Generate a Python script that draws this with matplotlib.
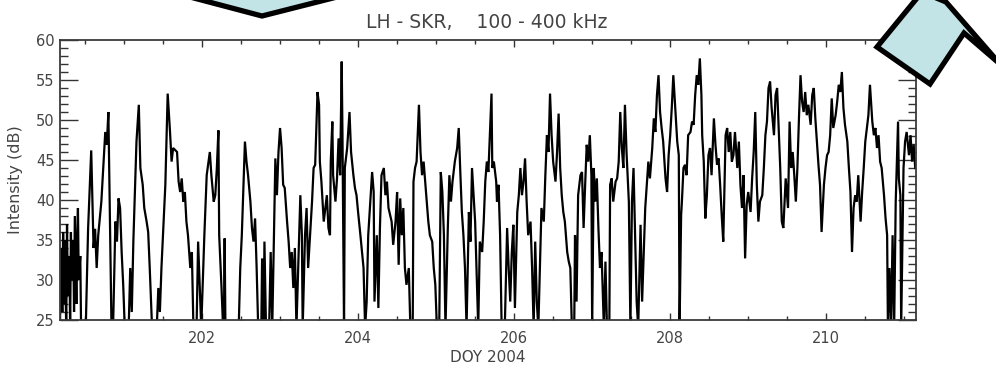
import matplotlib
matplotlib.use("Agg")
import matplotlib.pyplot as plt
from matplotlib.patches import Polygon
from matplotlib.ticker import MultipleLocator

# LH-polarised SKR intensity, 100-400 kHz, versus day of year 2004
doy = [
    200.18, 200.19, 200.21, 200.22, 200.23, 200.24, 200.26, 200.27, 200.28, 200.30,
    200.31, 200.32, 200.33, 200.35, 200.36, 200.37, 200.39, 200.40, 200.41, 200.42,
    200.44, 200.45, 200.51, 200.54, 200.58, 200.61, 200.63, 200.65, 200.67, 200.71,
    200.76, 200.78, 200.80, 200.82, 200.84, 200.86, 200.89, 200.91, 200.93, 200.95,
    200.97, 200.99, 201.01, 201.06, 201.08, 201.10, 201.12, 201.16, 201.19, 201.21,
    201.24, 201.26, 201.29, 201.31, 201.33, 201.36, 201.42, 201.44, 201.46, 201.48,
    201.53, 201.56, 201.59, 201.61, 201.63, 201.68, 201.70, 201.72, 201.74, 201.76,
    201.78, 201.80, 201.82, 201.85, 201.87, 201.89, 201.93, 201.95, 201.99, 202.03,
    202.06, 202.10, 202.12, 202.15, 202.17, 202.19, 202.21, 202.22, 202.25, 202.27,
    202.28, 202.29, 202.30, 202.47, 202.49, 202.51, 202.55, 202.57, 202.59, 202.62,
    202.64, 202.66, 202.68, 202.70, 202.72, 202.76, 202.77, 202.79, 202.80, 202.82,
    202.86, 202.88, 202.90, 202.94, 202.96, 202.98, 203.00, 203.02, 203.04, 203.06,
    203.09, 203.11, 203.13, 203.15, 203.17, 203.19, 203.21, 203.24, 203.26, 203.28,
    203.29, 203.32, 203.34, 203.36, 203.39, 203.41, 203.43, 203.45, 203.48, 203.50,
    203.51, 203.53, 203.56, 203.58, 203.60, 203.62, 203.64, 203.65, 203.67, 203.68,
    203.71, 203.73, 203.75, 203.77, 203.79, 203.80, 203.82, 203.83, 203.86, 203.89,
    203.91, 203.94, 203.96, 203.98, 204.00, 204.03, 204.05, 204.07, 204.09, 204.11,
    204.13, 204.18, 204.20, 204.21, 204.24, 204.26, 204.28, 204.30, 204.33, 204.35,
    204.37, 204.39, 204.43, 204.45, 204.48, 204.50, 204.52, 204.54, 204.56, 204.58,
    204.60, 204.62, 204.65, 204.67, 204.70, 204.71, 204.73, 204.75, 204.78, 204.80,
    204.82, 204.84, 204.86, 204.88, 204.90, 204.92, 204.95, 204.97, 204.99, 205.01,
    205.04, 205.06, 205.08, 205.10, 205.12, 205.15, 205.17, 205.19, 205.21, 205.24,
    205.27, 205.29, 205.31, 205.33, 205.35, 205.37, 205.39, 205.42, 205.44, 205.46,
    205.48, 205.50, 205.52, 205.54, 205.56, 205.59, 205.61, 205.63, 205.65, 205.67,
    205.71, 205.72, 205.74, 205.77, 205.78, 205.80, 205.82, 205.84, 205.88, 205.91,
    205.93, 205.95, 205.97, 205.99, 206.01, 206.04, 206.06, 206.08, 206.10, 206.12,
    206.14, 206.16, 206.18, 206.21, 206.23, 206.25, 206.27, 206.29, 206.31, 206.35,
    206.38, 206.40, 206.42, 206.44, 206.46, 206.48, 206.50, 206.53, 206.55, 206.57,
    206.59, 206.61, 206.63, 206.65, 206.68, 206.70, 206.72, 206.74, 206.77, 206.78,
    206.80, 206.82, 206.85, 206.87, 206.89, 206.91, 206.93, 206.95, 206.97, 206.99,
    207.00, 207.02, 207.04, 207.06, 207.08, 207.10, 207.12, 207.15, 207.17, 207.19,
    207.22, 207.23, 207.25, 207.27, 207.30, 207.32, 207.34, 207.36, 207.38, 207.40,
    207.42, 207.44, 207.47, 207.49, 207.51, 207.53, 207.55, 207.57, 207.59, 207.62,
    207.64, 207.68, 207.70, 207.72, 207.74, 207.77, 207.79, 207.81, 207.83, 207.85,
    207.87, 207.89, 207.91, 207.94, 207.96, 207.98, 208.00, 208.02, 208.04, 208.06,
    208.09, 208.11, 208.12, 208.14, 208.15, 208.17, 208.19, 208.21, 208.23, 208.26,
    208.28, 208.30, 208.32, 208.34, 208.36, 208.38, 208.40, 208.41, 208.43, 208.45,
    208.47, 208.49, 208.51, 208.53, 208.56, 208.58, 208.60, 208.62, 208.64, 208.66,
    208.68, 208.71, 208.73, 208.75, 208.77, 208.79, 208.81, 208.83, 208.86, 208.88,
    208.90, 208.92, 208.94, 208.96, 208.98, 209.00, 209.03, 209.05, 209.07, 209.09,
    209.11, 209.13, 209.15, 209.18, 209.20, 209.22, 209.24, 209.26, 209.28, 209.30,
    209.33, 209.35, 209.37, 209.39, 209.41, 209.43, 209.45, 209.47, 209.48, 209.51,
    209.53, 209.55, 209.57, 209.59, 209.61, 209.63, 209.65, 209.67, 209.69, 209.71,
    209.73, 209.75, 209.77, 209.80, 209.82, 209.84, 209.86, 209.88, 209.90, 209.92,
    209.94, 209.97, 209.99, 210.01, 210.03, 210.05, 210.07, 210.09, 210.12, 210.14,
    210.16, 210.18, 210.20, 210.22, 210.24, 210.27, 210.29, 210.31, 210.33, 210.35,
    210.37, 210.39, 210.41, 210.44, 210.46, 210.48, 210.50, 210.52, 210.54, 210.56,
    210.59, 210.61, 210.63, 210.65, 210.67, 210.69, 210.71, 210.74, 210.76, 210.78,
    210.79, 210.81, 210.83, 210.85, 210.87, 210.89, 210.92, 210.93, 210.95, 210.96,
    210.99, 211.01, 211.03, 211.06, 211.08, 211.10, 211.12, 211.14,
]

intensity_db = [
    24.0, 34.0, 26.0, 36.0, 27.0, 35.0, 24.0, 37.0, 28.0, 33.0,
    24.0, 36.0, 30.0, 35.0, 26.0, 38.0, 27.0, 35.0, 39.0, 30.0,
    33.0, 24.0, 24.0, 36.4, 46.2, 34.0, 36.4, 31.5, 35.6, 39.8,
    48.5, 46.9, 51.0, 37.3, 24.0, 24.0, 37.3, 34.8, 40.2, 39.0,
    33.5, 29.4, 24.0, 24.0, 31.5, 26.0, 34.8, 47.3, 51.9, 44.0,
    41.9, 39.0, 37.3, 36.0, 31.5, 24.0, 24.0, 29.0, 26.0, 31.5,
    41.9, 53.3, 48.5, 44.8, 46.5, 46.0, 42.3, 41.0, 42.7, 39.8,
    41.0, 37.3, 35.6, 31.5, 33.5, 24.0, 24.0, 34.8, 24.0, 35.6,
    43.1, 46.0, 43.1, 39.8, 40.6, 44.0, 48.7, 35.6, 29.0, 24.0,
    24.0, 35.2, 24.0, 24.0, 31.5, 35.6, 47.3, 44.8, 43.1, 39.8,
    36.5, 34.8, 37.7, 31.5, 24.0, 24.0, 32.7, 24.0, 34.8, 24.0,
    24.0, 33.5, 24.0, 45.2, 40.6, 46.0, 49.0, 46.5, 41.9, 41.5,
    37.3, 34.8, 31.5, 33.5, 29.0, 34.0, 24.0, 34.0, 40.6, 35.6,
    24.0, 35.6, 39.0, 31.5, 36.5, 39.8, 44.0, 44.4, 53.5, 51.9,
    44.8, 42.3, 37.3, 39.0, 40.6, 36.5, 35.6, 44.8, 49.8, 43.1,
    39.8, 42.7, 47.7, 43.1, 57.3, 48.1, 24.0, 44.0, 46.5, 51.0,
    46.0, 43.1, 41.5, 40.6, 38.5, 35.6, 33.5, 31.5, 24.0, 27.3,
    35.6, 43.5, 41.0, 27.3, 35.6, 26.5, 36.5, 43.1, 44.0, 40.6,
    42.3, 39.0, 37.3, 34.4, 37.3, 41.0, 31.9, 40.2, 35.6, 39.0,
    31.5, 29.4, 31.5, 24.0, 24.0, 42.3, 44.0, 44.8, 51.9, 46.0,
    43.1, 44.8, 42.3, 39.8, 37.3, 35.6, 34.8, 31.5, 29.4, 24.0,
    24.0, 43.5, 41.0, 35.6, 24.0, 36.5, 43.1, 39.8, 42.3, 44.8,
    46.5, 49.0, 43.5, 38.5, 35.6, 31.5, 24.0, 38.5, 34.8, 44.0,
    40.6, 37.3, 30.6, 24.0, 34.8, 33.5, 37.3, 42.3, 44.8, 43.5,
    53.3, 44.0, 44.8, 42.3, 39.8, 41.9, 35.6, 24.0, 24.0, 36.5,
    31.5, 27.3, 33.5, 36.9, 26.5, 38.5, 40.6, 44.0, 40.6, 42.3,
    45.2, 39.8, 35.6, 37.3, 31.5, 24.0, 34.8, 27.3, 24.0, 39.0,
    37.3, 43.1, 48.1, 46.0, 53.3, 48.1, 44.8, 42.3, 46.0, 50.8,
    44.0, 40.6, 38.5, 37.3, 33.5, 32.3, 31.5, 24.0, 24.0, 35.6,
    27.3, 40.6, 43.1, 43.5, 36.5, 41.9, 46.9, 44.8, 48.1, 43.1,
    24.0, 44.0, 39.8, 42.7, 36.5, 31.5, 33.5, 24.0, 32.3, 24.0,
    24.0, 41.9, 42.7, 39.8, 42.3, 42.7, 44.8, 51.0, 46.5, 44.0,
    51.9, 46.0, 39.8, 24.0, 39.8, 44.0, 35.6, 27.3, 24.0, 36.9,
    27.3, 39.0, 41.9, 44.8, 42.7, 46.5, 50.2, 48.5, 53.1, 55.6,
    51.0, 49.0, 47.3, 42.7, 41.0, 45.6, 48.1, 51.5, 55.6, 52.3,
    47.3, 45.6, 24.0, 38.1, 39.8, 44.0, 44.4, 43.1, 48.1, 48.5,
    49.8, 49.4, 53.1, 55.6, 54.4, 57.7, 53.1, 48.1, 44.8, 37.7,
    40.6, 45.6, 46.5, 43.1, 50.2, 46.9, 44.4, 45.2, 41.9, 38.1,
    34.8, 48.1, 49.0, 46.0, 48.5, 44.8, 45.6, 48.5, 44.0, 47.3,
    41.9, 39.0, 43.1, 32.7, 39.4, 41.0, 38.5, 42.7, 46.0, 51.0,
    41.9, 37.3, 39.8, 40.6, 44.0, 48.1, 49.8, 54.0, 54.8, 51.5,
    48.1, 53.1, 54.0, 49.0, 44.0, 37.3, 36.5, 40.6, 42.7, 39.0,
    49.8, 44.0, 46.0, 43.1, 39.8, 44.0, 50.2, 55.6, 52.3, 51.0,
    53.5, 50.6, 51.9, 49.4, 53.1, 54.0, 50.2, 47.3, 44.4, 41.9,
    36.0, 41.9, 44.0, 45.6, 46.0, 48.1, 52.7, 49.0, 50.6, 52.3,
    54.4, 53.5, 56.0, 51.5, 49.4, 47.3, 44.0, 41.0, 33.5, 39.0,
    40.6, 39.8, 43.1, 37.3, 41.0, 44.0, 47.3, 49.0, 50.6, 54.4,
    49.8, 48.1, 49.0, 46.5, 48.1, 44.8, 44.0, 40.6, 37.7, 35.6,
    24.0, 31.5, 24.0, 35.6, 24.0, 39.8, 49.8, 42.7, 40.6, 24.0,
    44.0, 47.3, 48.5, 45.6, 48.1, 44.8, 46.9, 44.0,
]

title_text = "LH - SKR,    100 - 400 kHz"
x_label = "DOY 2004"
y_label = "Intensity (dB)"
x_range = (200.18, 211.15)
y_range = (25, 60)

W, H = 996, 370
fig = plt.figure(figsize=(W / 100, H / 100), dpi=100)
ax = fig.add_axes([60 / W, 50 / H, 856 / W, 280 / H])

ax.plot(doy, intensity_db, color="black", lw=1.6, solid_joinstyle="miter")
ax.set_xlim(*x_range)
ax.set_ylim(*y_range)

text_color = "#444444"
ax.xaxis.set_major_locator(MultipleLocator(2))
ax.xaxis.set_minor_locator(MultipleLocator(0.5))
ax.yaxis.set_major_locator(MultipleLocator(5))
ax.yaxis.set_minor_locator(MultipleLocator(1))

ax.tick_params(axis="both", which="both", direction="in", top=True, right=True,
               colors="#333333", labelcolor=text_color, labelsize=10.5)
ax.tick_params(axis="y", which="major", length=13, width=1.0, pad=4)
ax.tick_params(axis="y", which="minor", length=6, width=1.0)
ax.tick_params(axis="x", which="major", length=5, width=1.0, pad=8)
ax.tick_params(axis="x", which="minor", length=3, width=1.0)

for sp in ax.spines.values():
    sp.set_color("#3a3a3a")
    sp.set_linewidth(1.3)

ax.set_xlabel(x_label, fontsize=11, color=text_color, labelpad=3)
ax.set_ylabel(y_label, fontsize=11.5, color=text_color, labelpad=9)
fig.text(487 / W, 1 - 23 / H, title_text, ha="center", va="center",
         fontsize=13.5, color=text_color)


def to_fig(points):
    return [(x / W, 1 - y / H) for x, y in points]


callout_fill = "#c3e4e6"
left_callout = [(186, -40), (190, -3), (262, 16), (337, -3), (341, -40)]
right_callout = [(877, 47), (922, -8), (946, 2), (1000, 64), (964, 33), (930, 84)]
for shape in (left_callout, right_callout):
    fig.add_artist(Polygon(to_fig(shape), closed=True, transform=fig.transFigure,
                           facecolor=callout_fill, edgecolor="black",
                           linewidth=3.8, joinstyle="miter", clip_on=False, zorder=5))

fig.savefig("out.png", dpi=100)
